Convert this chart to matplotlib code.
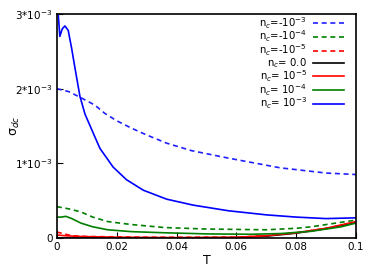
import numpy as np
import matplotlib
matplotlib.use("Agg")
import matplotlib.pyplot as plt

plt.rcParams['font.family'] = ['DejaVu Sans']

# data (sigma in units of 1e-3)
T_b_solid = [0, 0.00045, 0.001, 0.0018, 0.0027, 0.0038, 0.0049, 0.006, 0.0077, 0.0094,
             0.0121, 0.0144, 0.0188, 0.0233, 0.0289, 0.0367, 0.0456, 0.0573, 0.07, 0.08, 0.09, 0.1]
s_b_solid = [3.3, 3.0, 2.70, 2.80, 2.84, 2.78, 2.55, 2.29, 1.90, 1.66,
             1.41, 1.20, 0.95, 0.78, 0.64, 0.52, 0.44, 0.365, 0.31, 0.28, 0.26, 0.27]

T_b_dash = [0, 0.004, 0.008, 0.0127, 0.016, 0.02, 0.025, 0.03, 0.0367, 0.045, 0.0573, 0.0746, 0.09, 0.1]
s_b_dash = [2.0, 1.96, 1.88, 1.78, 1.67, 1.57, 1.47, 1.38, 1.27, 1.17, 1.07, 0.94, 0.87, 0.85]

T_g_dash = [0, 0.004, 0.008, 0.012, 0.017, 0.025, 0.036, 0.05, 0.07, 0.08, 0.085, 0.09, 0.1]
s_g_dash = [0.42, 0.39, 0.35, 0.28, 0.22, 0.18, 0.14, 0.12, 0.11, 0.13, 0.15, 0.18, 0.24]

T_g_solid = [0, 0.0015, 0.003, 0.005, 0.008, 0.012, 0.017, 0.025, 0.036, 0.05, 0.065, 0.075, 0.085, 0.095, 0.1]
s_g_solid = [0.28, 0.28, 0.29, 0.26, 0.20, 0.15, 0.11, 0.085, 0.07, 0.055, 0.05, 0.06, 0.09, 0.15, 0.20]

T_r_solid = [0, 0.003, 0.008, 0.02, 0.04, 0.06, 0.07, 0.08, 0.09, 0.1]
s_r_solid = [0.04, 0.03, 0.02, 0.01, 0.005, 0.01, 0.03, 0.07, 0.13, 0.22]

T_r_dash = [0, 0.002, 0.005, 0.01, 0.03, 0.06, 0.07, 0.08, 0.09, 0.1]
s_r_dash = [0.08, 0.06, 0.03, 0.02, 0.01, 0.01, 0.03, 0.07, 0.13, 0.21]

T_k = [0, 0.01, 0.03, 0.06, 0.07, 0.08, 0.09, 0.1]
s_k = [0.0, 0.0, 0.0, 0.005, 0.025, 0.065, 0.125, 0.21]

labels = ['n$_c$=-10$^{-3}$', 'n$_c$=-10$^{-4}$', 'n$_c$=-10$^{-5}$', 'n$_c$= 0.0',
          'n$_c$= 10$^{-5}$', 'n$_c$= 10$^{-4}$', 'n$_c$= 10$^{-3}$']

xticks = [0, 0.02, 0.04, 0.06, 0.08, 0.1]
xticklabels = ['0', '0.02', '0.04', '0.06', '0.08', '0.1']
yticks = [0, 1, 2, 3]
yticklabels = ['0', '1*10$^{-3}$', '2*10$^{-3}$', '3*10$^{-3}$']

fig = plt.figure(figsize=(3.74, 2.8), dpi=100)
ax = fig.add_axes([0.152, 0.15, 0.8, 0.80])

lw = 1.2
dash = (0, (3, 2.2))
ax.plot(T_b_dash, s_b_dash, color='#2020ff', lw=lw, linestyle=dash, label=labels[0])
ax.plot(T_g_dash, s_g_dash, color='#007f00', lw=lw, linestyle=dash, label=labels[1])
ax.plot(T_r_dash, s_r_dash, color='#ff0000', lw=lw, linestyle=dash, label=labels[2])
ax.plot(T_k, s_k, color='black', lw=lw, label=labels[3])
ax.plot(T_r_solid, s_r_solid, color='#ff0000', lw=lw, label=labels[4])
ax.plot(T_g_solid, s_g_solid, color='#007f00', lw=lw, label=labels[5])
ax.plot(T_b_solid, s_b_solid, color='#0000ff', lw=lw, label=labels[6])

ax.set_xlim(0, 0.1)
ax.set_ylim(0, 3)
ax.set_xticks(xticks)
ax.set_xticklabels(xticklabels, fontsize=7.5)
ax.set_yticks(yticks)
ax.set_yticklabels(yticklabels, fontsize=7.5)
ax.tick_params(direction='in', length=4, width=0.8, pad=3)
for sp in ax.spines.values():
    sp.set_linewidth(1.2)

ax.set_xlabel('T', fontsize=9, labelpad=1)
ax.set_ylabel('σ$_{dc}$', fontsize=9)
ax.yaxis.set_label_coords(-0.117, 0.5)

ax.legend(loc='upper right', bbox_to_anchor=(0.968, 1.005), frameon=False,
          markerfirst=False, fontsize=7.3, handlelength=3.1, labelspacing=-0.18,
          handletextpad=0.6, borderaxespad=0, borderpad=0.2)

fig.savefig('out.png', dpi=100)
